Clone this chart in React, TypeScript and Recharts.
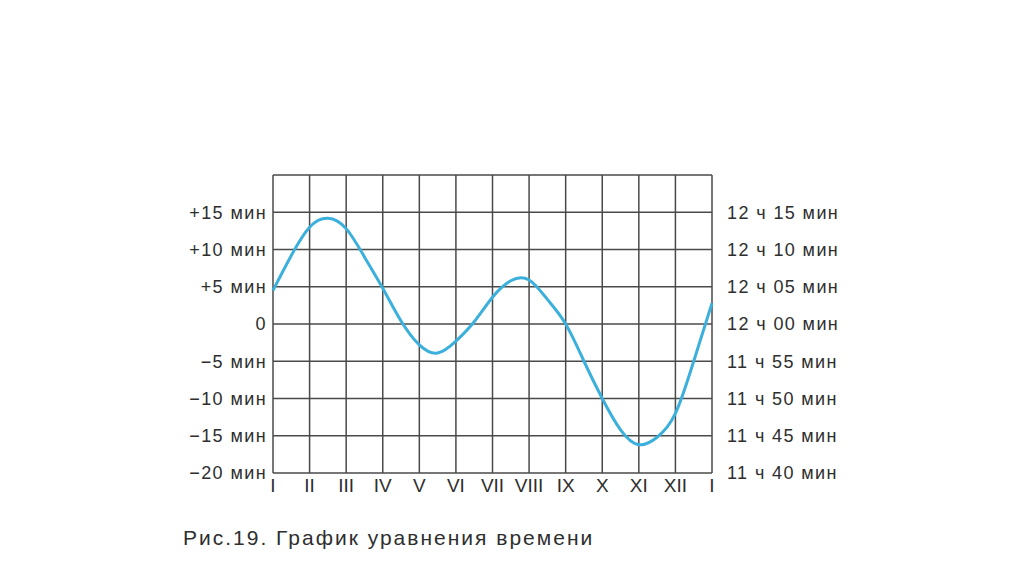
import { LineChart, Line, XAxis, YAxis, CartesianGrid } from 'recharts';

// equation of time, minutes, read at half-month steps (0 = I, 12 = next I)
const months = [0, 0.5, 1, 1.5, 2, 2.5, 3, 3.5, 4, 4.5, 5, 5.5, 6, 6.5, 7, 7.5, 8, 8.5, 9, 9.5, 10, 10.5, 11, 11.5, 12];
const minutes = [4.5, 9.2, 13, 14.2, 12.8, 9, 4.8, 0.4, -2.8, -3.9, -2.3, 0.3, 3.6, 5.8, 5.9, 3.3, 0, -5, -10, -14.2, -16.2, -15.2, -12, -5, 2.8];

const monthTicks = [0, 1, 2, 3, 4, 5, 6, 7, 8, 9, 10, 11, 12];
const monthLabels = ['I', 'II', 'III', 'IV', 'V', 'VI', 'VII', 'VIII', 'IX', 'X', 'XI', 'XII', 'I'];

const minuteTicks = [-20, -15, -10, -5, 0, 5, 10, 15, 20];
const leftLabels: Record<number, string> = {
  [-20]: '−20 мин', [-15]: '−15 мин', [-10]: '−10 мин', [-5]: '−5 мин',
  0: '0', 5: '+5 мин', 10: '+10 мин', 15: '+15 мин', 20: '',
};
const rightLabels: Record<number, string> = {
  [-20]: '11 ч 40 мин', [-15]: '11 ч 45 мин', [-10]: '11 ч 50 мин', [-5]: '11 ч 55 мин',
  0: '12 ч 00 мин', 5: '12 ч 05 мин', 10: '12 ч 10 мин', 15: '12 ч 15 мин', 20: '',
};

const data = months.map((m, i) => ({ m, v: minutes[i] }));

const FONT = '"Liberation Sans", Arial, sans-serif';
const TEXT = '#2e2e2e';

export default function App() {
  return (
    <div style={{ position: 'absolute', left: 0, top: 0, width: 1024, height: 574, background: '#fff', fontFamily: FONT }}>
      <LineChart width={1024} height={574} data={data} margin={{ top: 175, right: 182, left: 173, bottom: 81 }}>
        <CartesianGrid
          yAxisId="l"
          stroke="#4a4a4a"
          strokeWidth={1.5}
          horizontalValues={minuteTicks}
          verticalValues={monthTicks}
        />
        <XAxis
          dataKey="m"
          type="number"
          domain={[0, 12]}
          ticks={monthTicks}
          interval={0}
          axisLine={false}
          tickLine={false}
          height={20}
          tick={{ fill: TEXT, fontSize: 19, fontFamily: FONT }}
          tickFormatter={(v: number) => monthLabels[v]}
          tickMargin={0}
        />
        <YAxis
          yAxisId="l"
          type="number"
          domain={[-20, 20]}
          ticks={minuteTicks}
          interval={0}
          axisLine={false}
          tickLine={false}
          width={100}
          tickMargin={0}
          tick={{ fill: TEXT, fontSize: 18, fontFamily: FONT, letterSpacing: 1.4 }}
          tickFormatter={(v: number) => leftLabels[v]}
        />
        <YAxis
          yAxisId="r"
          orientation="right"
          type="number"
          domain={[-20, 20]}
          ticks={minuteTicks}
          interval={0}
          axisLine={false}
          tickLine={false}
          width={130}
          tickMargin={9}
          tick={{ fill: TEXT, fontSize: 18, fontFamily: FONT, letterSpacing: 1.4 }}
          tickFormatter={(v: number) => rightLabels[v]}
        />
        <Line
          yAxisId="r"
          dataKey="v"
          stroke="none"
          dot={false}
          activeDot={false}
          isAnimationActive={false}
        />
        <Line
          yAxisId="l"
          dataKey="v"
          type="natural"
          stroke="#3cb0dc"
          strokeWidth={3}
          dot={false}
          isAnimationActive={false}
        />
      </LineChart>
      <div style={{ position: 'absolute', left: 183, top: 526, fontSize: 21, letterSpacing: 2, color: TEXT, fontFamily: FONT }}>
        Рис.19. График уравнения времени
      </div>
    </div>
  );
}
